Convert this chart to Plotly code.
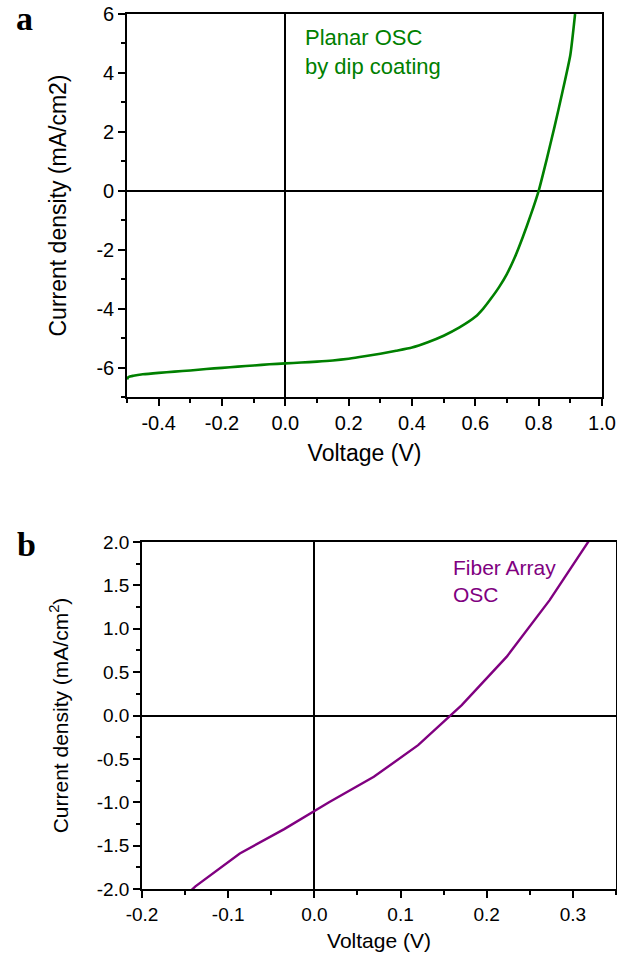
import plotly.graph_objects as go

# Panel a: planar OSC J-V curve
planar_v = [-0.5, -0.495, -0.48, -0.45, -0.4, -0.35, -0.3, -0.25, -0.2, -0.15, -0.1, -0.05,
            0.0, 0.05, 0.1, 0.15, 0.2, 0.25, 0.3, 0.35, 0.4, 0.45, 0.5, 0.55, 0.6, 0.625,
            0.65, 0.675, 0.7, 0.725, 0.75, 0.775, 0.8, 0.825, 0.85, 0.875, 0.9, 0.915]
planar_j = [-6.40, -6.32, -6.28, -6.23, -6.18, -6.14, -6.10, -6.05, -6.01, -5.97, -5.93, -5.89,
            -5.86, -5.83, -5.80, -5.76, -5.70, -5.62, -5.53, -5.43, -5.32, -5.14, -4.92, -4.64,
            -4.28, -4.00, -3.65, -3.27, -2.82, -2.25, -1.57, -0.82, 0.0, 1.05, 2.17, 3.35, 4.61, 6.0]

# Panel b: fiber array OSC J-V curve
fiber_v = [-0.19, -0.138, -0.0865, -0.035, 0.017, 0.069, 0.1204, 0.171, 0.223, 0.273, 0.325]
fiber_j = [-2.45, -1.97, -1.59, -1.31, -1.00, -0.707, -0.342, 0.119, 0.675, 1.33, 2.11]

FONT = "Liberation Sans, Arial, sans-serif"
W, H = 617, 959

def fx(px):
    return px / W

def fy(py):
    return 1 - py / H

fig = go.Figure()
fig.add_trace(go.Scatter(x=planar_v, y=planar_j, mode="lines",
                         line=dict(color="#008000", width=2.6, shape="spline", smoothing=0.5),
                         xaxis="x", yaxis="y", showlegend=False))
fig.add_trace(go.Scatter(x=fiber_v, y=fiber_j, mode="lines",
                         line=dict(color="#800080", width=2.4), xaxis="x2", yaxis="y2",
                         showlegend=False))

common = dict(showline=True, linecolor="black", linewidth=1.6, mirror=True,
              ticks="outside", ticklen=7, tickwidth=1.6, tickcolor="black",
              showgrid=False, zeroline=True, zerolinecolor="black", zerolinewidth=1.5,
              automargin=False)

fig.update_layout(
    width=W, height=H, margin=dict(l=0, r=0, t=0, b=0, autoexpand=False),
    paper_bgcolor="white", plot_bgcolor="white",
    font=dict(family=FONT, color="black"),
    xaxis=dict(domain=[fx(127), fx(602)], anchor="y", range=[-0.5, 1.0],
               tickvals=[-0.4, -0.2, 0.0, 0.2, 0.4, 0.6, 0.8, 1.0],
               ticktext=["-0.4", "-0.2", "0.0", "0.2", "0.4", "0.6", "0.8", "1.0"],
               tickfont=dict(size=20),
               minor=dict(ticks="outside", ticklen=4, tickwidth=1.5, tickcolor="black", dtick=0.1, tick0=0),
               title=dict(text="Voltage (V)", font=dict(size=23), standoff=12),
               **common),
    yaxis=dict(domain=[fy(397), fy(14)], anchor="x", range=[-7, 6],
               tickvals=[-6, -4, -2, 0, 2, 4, 6], ticktext=["-6", "-4", "-2", "0", "2", "4", "6"],
               tickfont=dict(size=20),
               minor=dict(ticks="outside", ticklen=4, tickwidth=1.5, tickcolor="black", dtick=1, tick0=0),
               title=dict(text="Current density (mA/cm2)", font=dict(size=23), standoff=23),
               **common),
    xaxis2=dict(domain=[fx(142), fx(616)], anchor="y2", range=[-0.2, 0.35],
                tickvals=[-0.2, -0.1, 0.0, 0.1, 0.2, 0.3],
                ticktext=["-0.2", "-0.1", "0.0", "0.1", "0.2", "0.3"],
                tickfont=dict(size=19),
                minor=dict(ticks="outside", ticklen=4, tickwidth=1.5, tickcolor="black", dtick=0.05, tick0=0),
                title=dict(text="Voltage (V)", font=dict(size=21), standoff=10),
                **common),
    yaxis2=dict(domain=[fy(889), fy(542)], anchor="x2", range=[-2.0, 2.0],
                tickvals=[-2.0, -1.5, -1.0, -0.5, 0.0, 0.5, 1.0, 1.5, 2.0],
                ticktext=["-2.0", "-1.5", "-1.0", "-0.5", "0.0", "0.5", "1.0", "1.5", "2.0"],
                tickfont=dict(size=19),
                minor=dict(ticks="outside", ticklen=4, tickwidth=1.5, tickcolor="black", dtick=0.25, tick0=0),
                title=dict(text="Current density (mA/cm<sup>2</sup>)", font=dict(size=21), standoff=22),
                **common),
)

fig.add_annotation(text="Planar OSC<br>by dip coating", xref="x", yref="y", x=0.055, y=4.72,
                   xanchor="left", yanchor="middle", align="left", showarrow=False,
                   font=dict(size=22, color="#008000", family=FONT))
fig.add_annotation(text="Fiber Array<br>OSC", xref="x2", yref="y2", x=0.159, y=1.55,
                   xanchor="left", yanchor="middle", align="left", showarrow=False,
                   font=dict(size=21, color="#800080", family=FONT))

fig.add_annotation(text="<b>a</b>", xref="paper", yref="paper", x=fx(24), y=fy(19),
                   xanchor="center", yanchor="middle", showarrow=False,
                   font=dict(size=34, family="Liberation Serif, DejaVu Serif, serif", color="black"))
fig.add_annotation(text="<b>b</b>", xref="paper", yref="paper", x=fx(26), y=fy(544),
                   xanchor="center", yanchor="middle", showarrow=False,
                   font=dict(size=34, family="Liberation Serif, DejaVu Serif, serif", color="black"))

fig.write_html("out.html")
